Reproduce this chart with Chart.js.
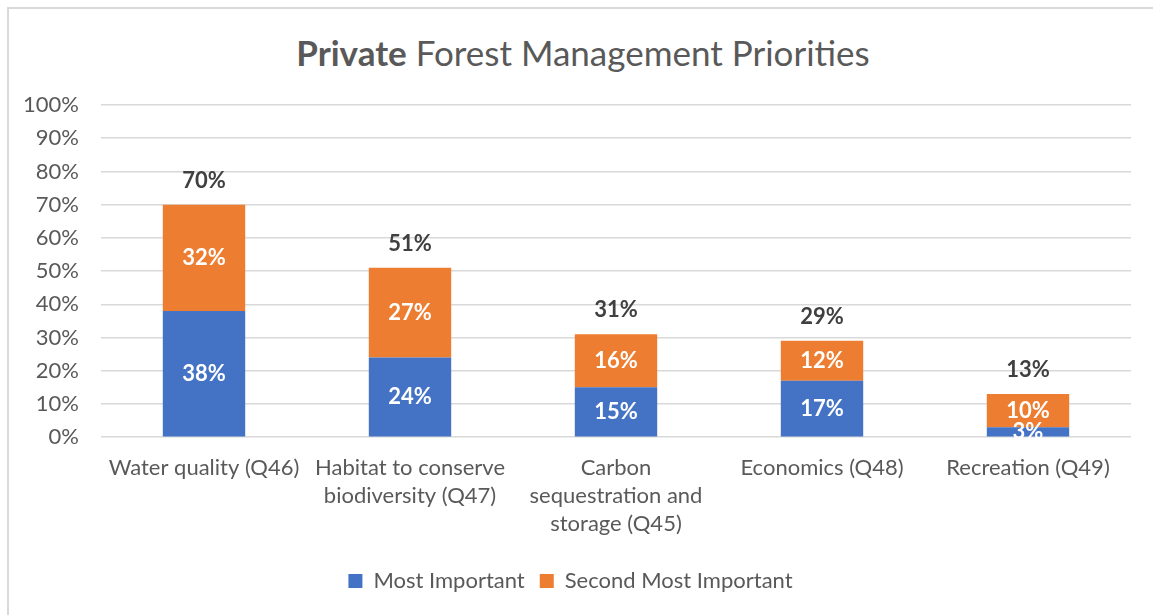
<!DOCTYPE html>
<html>
<head>
<meta charset="utf-8">
<script src="https://cdn.jsdelivr.net/npm/chart.js@4"></script>
<style>
  html, body { margin: 0; padding: 0; background: #fff; }
  #wrap { position: relative; width: 1153px; height: 615px; overflow: hidden; }
  #frame { position: absolute; left: 7px; top: 7px; width: 1200px; height: 700px;
           border-top: 2px solid #d9d9d9; border-left: 2px solid #d9d9d9; }
  #title { position: absolute; left: 0; width: 1166px; top: 31px; text-align: center;
           font-family: Lato, sans-serif; font-size: 35px; color: #595959; }
  #title b { font-weight: 700; }
  canvas { position: absolute; left: 0; top: 0; }
</style>
</head>
<body>
<div id="wrap">
  <div id="frame"></div>
  <div id="title"><b>Private</b> Forest Management Priorities</div>
  <canvas id="chart" width="1153" height="615"></canvas>
</div>
<script>
// ── Data ──
const categories = [
  'Water quality (Q46)',
  ['Habitat to conserve', 'biodiversity (Q47)'],
  ['Carbon', 'sequestration and', 'storage (Q45)'],
  'Economics (Q48)',
  'Recreation (Q49)'
];
const mostImportant = [38, 24, 15, 17, 3];
const secondImportant = [32, 27, 16, 12, 10];
const totals = [70, 51, 31, 29, 13];
const yTicks = [0, 10, 20, 30, 40, 50, 60, 70, 80, 90, 100];

const FONT = 'Lato, sans-serif';

// ── Value labels (inside segments + totals on top) ──
const valueLabels = {
  id: 'valueLabels',
  afterDatasetsDraw(chart) {
    const ctx = chart.ctx;
    ctx.save();
    ctx.textAlign = 'center';
    ctx.textBaseline = 'middle';
    ctx.font = 'bold 22px ' + FONT;
    chart.data.datasets.forEach((ds, di) => {
      const meta = chart.getDatasetMeta(di);
      meta.data.forEach((bar, i) => {
        ctx.fillStyle = '#ffffff';
        ctx.fillText(ds.data[i] + '%', bar.x, (bar.y + bar.base) / 2);
      });
    });
    const top = chart.getDatasetMeta(chart.data.datasets.length - 1);
    ctx.fillStyle = '#404040';
    top.data.forEach((bar, i) => {
      ctx.fillText(totals[i] + '%', bar.x, bar.y - 24);
    });
    ctx.restore();
  }
};

new Chart(document.getElementById('chart'), {
  type: 'bar',
  data: {
    labels: categories,
    datasets: [
      {
        label: 'Most Important',
        data: mostImportant,
        backgroundColor: '#4472C4',
        barPercentage: 0.8,
        categoryPercentage: 0.5
      },
      {
        label: 'Second Most Important',
        data: secondImportant,
        backgroundColor: '#ED7D31',
        barPercentage: 0.8,
        categoryPercentage: 0.5
      }
    ]
  },
  options: {
    responsive: false,
    animation: false,
    layout: { padding: { top: 105, left: 10, right: 22, bottom: 13 } },
    plugins: {
      title: { display: false },
      tooltip: { enabled: false },
      legend: {
        position: 'bottom',
        labels: {
          color: '#595959',
          font: { family: FONT, size: 22 },
          boxWidth: 14,
          boxHeight: 14,
          padding: 15
        }
      }
    },
    scales: {
      x: {
        stacked: true,
        grid: { display: false, drawTicks: false },
        border: { display: false },
        ticks: {
          color: '#595959',
          font: { family: FONT, size: 22, lineHeight: 1.27 },
          maxRotation: 0,
          autoSkip: false,
          padding: 17
        }
      },
      y: {
        stacked: true,
        min: 0,
        max: 100,
        afterBuildTicks(axis) { axis.ticks = yTicks.map(v => ({ value: v })); },
        afterFit(axis) { axis.width = 91; },
        grid: { color: '#d9d9d9', lineWidth: 1.5, drawTicks: false },
        border: { display: false },
        ticks: {
          color: '#595959',
          font: { family: FONT, size: 22 },
          padding: 22,
          callback: v => v + '%'
        }
      }
    }
  },
  plugins: [valueLabels]
});
</script>
</body>
</html>
